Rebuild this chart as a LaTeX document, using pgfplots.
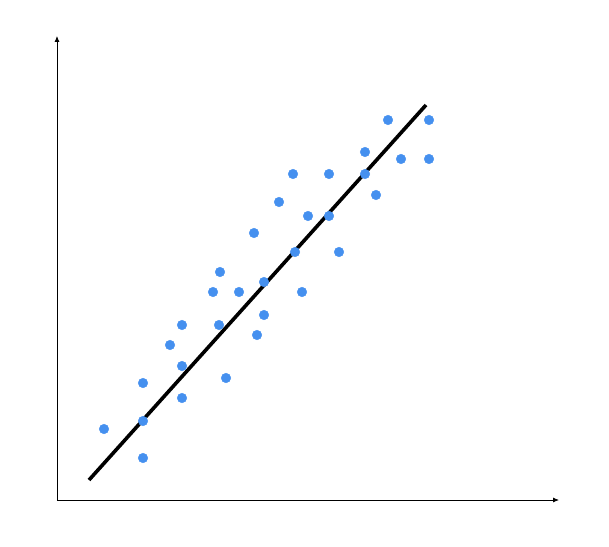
\documentclass[border=0pt]{standalone}
\usepackage{pgfplots}
\pgfplotsset{compat=1.18}
\usetikzlibrary{arrows.meta}
\definecolor{dotblue}{HTML}{4590EF}
\begin{document}
\begin{tikzpicture}[x=1pt,y=1pt]
\begin{axis}[
  at={(0,0)}, anchor=origin,
  x=1pt, y=1pt,
  xmin=0, xmax=502, ymin=0, ymax=464,
  axis lines=left,
  axis line style={line width=0.8pt, -{Latex[length=6pt,width=5pt]}},
  xtick=\empty, ytick=\empty,
  clip=false,
]
% scatter
\addplot[only marks, mark=*, mark size=4.8pt, color=dotblue, mark options={draw=dotblue, fill=dotblue}] coordinates {
(47,71) (86,117) (86,79) (86,42) (113,155) (125,175) (125,134) (125,102)
(156,208) (163,228) (162,175) (169,122) (182,208) (197,267) (200,165)
(207,218) (207,185) (222,298) (236,326) (238,248) (245,208) (251,284)
(272,326) (272,284) (282,248) (308,348) (308,326) (319,305) (331,380)
(344,341) (372,380) (372,341)};
% trend line
\addplot[black, line width=3.6pt] coordinates {(32,20) (369,395)};
\path (axis cs:-57,-46) rectangle (axis cs:552,500);
\end{axis}
\end{tikzpicture}
\end{document}
